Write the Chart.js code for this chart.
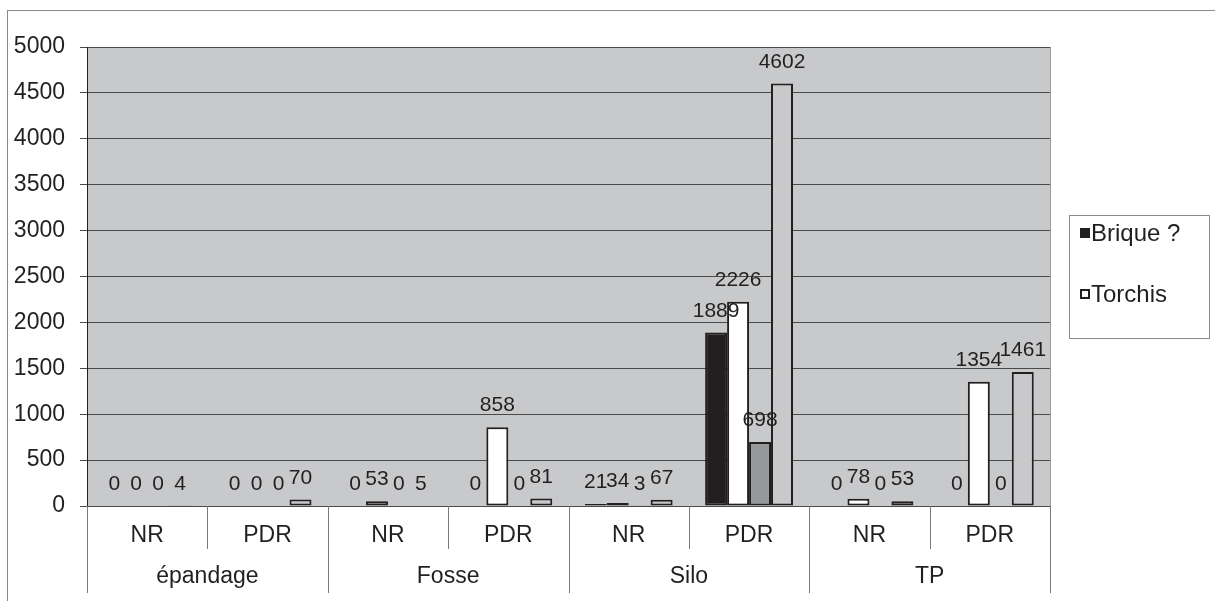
<!DOCTYPE html>
<html>
<head>
<meta charset="utf-8">
<script src="https://cdn.jsdelivr.net/npm/chart.js@4/dist/chart.umd.min.js"></script>
<style>
html, body { margin:0; padding:0; background:#fff; }
#wrap { width:1215px; height:601px; }
</style>
</head>
<body>
<div id="wrap"><canvas id="idGrafica" width="1215" height="601"></canvas></div>
<script>
// datos
var etiquetas = ['NR', 'PDR', 'NR', 'PDR', 'NR', 'PDR', 'NR', 'PDR'];
var grupos = ['épandage', 'Fosse', 'Silo', 'TP'];
var series = ['Brique ?', 'Torchis', 'Série 3', 'Série 4'];
var tBrique = [0, 0, 0, 0, 21, 1889, 0, 0];
var tTorchis = [0, 0, 53, 858, 34, 2226, 78, 1354];
var tSerie3 = [0, 0, 0, 0, 3, 698, 0, 0];
var tSerie4 = [4, 70, 5, 81, 67, 4602, 53, 1461];
var ticksY = [0, 500, 1000, 1500, 2000, 2500, 3000, 3500, 4000, 4500, 5000];

var colores = ['#231f20', '#ffffff', '#97989a', '#c8c9cb'];
var fuente = '"Liberation Sans", Arial, sans-serif';
var tinta = '#231f20';

var fondo = {
    id: 'fondo',
    beforeDraw: function (chart) {
        var c = chart.ctx, a = chart.chartArea;
        c.save();
        c.strokeStyle = '#8a8a8a';
        c.lineWidth = 1;
        c.strokeRect(7.5, 10.5, 1400, 800);
        c.fillStyle = '#c8c9cb';
        c.fillRect(a.left, a.top, a.right - a.left, a.bottom - a.top);
        c.strokeStyle = '#9a9a9a';
        c.strokeRect(a.left + 0.5, a.top + 0.5, a.right - a.left, a.bottom - a.top);
        c.restore();
    }
};

var ejeX = {
    id: 'ejeX',
    afterDraw: function (chart) {
        var c = chart.ctx, x = chart.scales.x, a = chart.chartArea;
        var w = (a.right - a.left) / etiquetas.length;
        c.save();
        c.strokeStyle = '#7a7a7a';
        c.lineWidth = 1;
        for (var i = 0; i <= etiquetas.length; i++) {
            var px = Math.round(a.left + i * w) + 0.5;
            var largo = (i % 2 == 0) ? 87 : 43;
            c.beginPath();
            c.moveTo(px, a.bottom);
            c.lineTo(px, a.bottom + largo);
            c.stroke();
        }
        c.fillStyle = tinta;
        c.font = '23px ' + fuente;
        c.textAlign = 'center';
        c.textBaseline = 'middle';
        for (var g = 0; g < grupos.length; g++) {
            var cx = (x.getPixelForValue(g * 2) + x.getPixelForValue(g * 2 + 1)) / 2;
            c.fillText(grupos[g], cx, a.bottom + 71);
        }
        c.restore();
    }
};

var etiquetasDatos = {
    id: 'etiquetasDatos',
    afterDatasetsDraw: function (chart) {
        var c = chart.ctx;
        c.save();
        c.font = '21px ' + fuente;
        c.fillStyle = tinta;
        c.textAlign = 'center';
        c.textBaseline = 'alphabetic';
        chart.data.datasets.forEach(function (ds, i) {
            chart.getDatasetMeta(i).data.forEach(function (bar, j) {
                c.fillText(ds.data[j], bar.x, bar.y - 16);
            });
        });
        c.restore();
    }
};

var leyenda = {
    id: 'leyenda',
    afterDraw: function (chart) {
        var c = chart.ctx;
        c.save();
        c.strokeStyle = '#8a8a8a';
        c.lineWidth = 1;
        c.strokeRect(1069.5, 215.5, 140, 123);
        c.font = '24px ' + fuente;
        c.textAlign = 'left';
        c.textBaseline = 'middle';
        for (var i = 0; i < 2; i++) {
            var ds = chart.data.datasets[i];
            var y = 233 + i * 61;
            c.fillStyle = ds.backgroundColor;
            c.fillRect(1080, y - 5, 10, 10);
            c.strokeStyle = tinta;
            c.lineWidth = 2;
            c.strokeRect(1081, y - 4, 8, 8);
            c.fillStyle = tinta;
            c.fillText(ds.label, 1091, y + 1);
        }
        c.restore();
    }
};

var valores = [tBrique, tTorchis, tSerie3, tSerie4];
var conjuntos = valores.map(function (v, i) {
    return {
        label: series[i],
        data: v,
        backgroundColor: colores[i]
    };
});

var ctx = document.getElementById('idGrafica').getContext('2d');
var myChart = new Chart(ctx, {
    type: 'bar',
    data: {
        labels: etiquetas,
        datasets: conjuntos
    },
    options: {
        responsive: false,
        animation: false,
        layout: { padding: { top: 47, right: 165, bottom: 0, left: 0 } },
        plugins: {
            legend: { display: false },
            tooltip: { enabled: false }
        },
        datasets: {
            bar: {
                categoryPercentage: 0.73,
                barPercentage: 1,
                borderColor: tinta,
                borderSkipped: false,
                borderWidth: function (c) { return c.raw === 0 ? 0 : 2; }
            }
        },
        scales: {
            x: {
                grid: { display: false, drawTicks: false },
                border: { display: false },
                ticks: { color: tinta, font: { size: 23, family: fuente }, padding: 16, maxRotation: 0 },
                afterFit: function (s) { s.height = 95; }
            },
            y: {
                min: 0,
                max: 5000,
                afterBuildTicks: function (s) {
                    s.ticks = ticksY.map(function (v) { return { value: v }; });
                },
                grid: { color: '#4a4a4a', tickLength: 7 },
                border: { color: tinta },
                ticks: {
                    color: tinta,
                    font: { size: 23, family: fuente },
                    padding: 15,
                    callback: function (v) { return String(v); }
                },
                afterFit: function (s) { s.width = 87; }
            }
        }
    },
    plugins: [fondo, ejeX, etiquetasDatos, leyenda]
});
</script>
</body>
</html>
